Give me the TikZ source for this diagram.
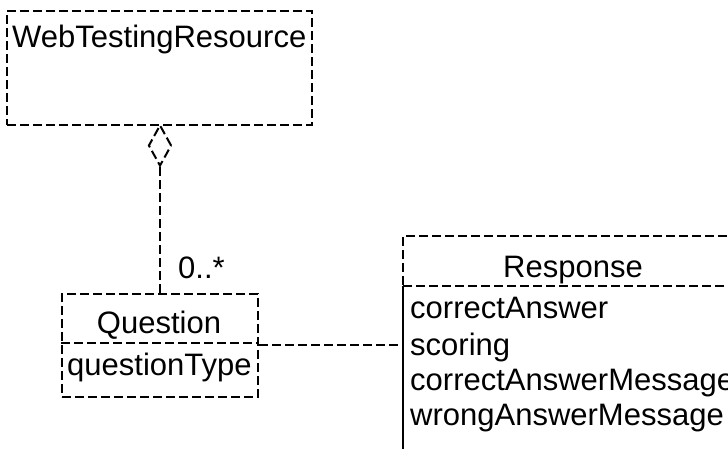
\documentclass[tikz,border=0pt]{standalone}
\usepackage{fontspec}
\setmainfont{Liberation Sans}
\usetikzlibrary{shapes.geometric}
\tikzset{
  umlline/.style={line width=2pt, dash pattern=on 9pt off 4pt},
  solidline/.style={line width=2pt},
  box/.style={umlline, draw, rectangle, inner sep=0pt, anchor=north west},
  label/.style={inner sep=0pt, font=\fontsize{31}{37}\selectfont},
}
\begin{document}
\begin{tikzpicture}[x=1pt, y=-1pt]
  \useasboundingbox (0,0) rectangle (728,448);
  \clip (0,0) rectangle (728,448);

  % WebTestingResource class
  \node[box, minimum width=305pt, minimum height=114pt] (wtr) at (6,10) {};
  \node[label, anchor=base west] (wtrname) at (12,47) {WebTestingResource};

  % aggregation diamond under the container class
  \node[umlline, draw, diamond, inner sep=0pt, minimum width=23pt, minimum height=41pt,
        anchor=north] (agg) at (160,124) {};

  % Question class
  \node[box, minimum width=196pt, minimum height=103pt] (q) at (61,293) {};
  \coordinate (qdivl) at (61,343);
  \coordinate (qdivr) at (257,343);
  \draw[umlline] (qdivl) -- (qdivr);
  \node[label, anchor=base] (qname) at (159,333) {Question};
  \node[label, anchor=base west] (qattr) at (67,375) {questionType};

  % aggregation link with multiplicity
  \draw[umlline] (agg.south) -- (agg.south |- q.north);
  \node[label, anchor=base west] (mult) at (178,278) {0..*};

  % Response class (runs past the page edges)
  \coordinate (rtl) at (403,236);
  \coordinate (rtr) at (740,236);
  \coordinate (rdl) at (403,286);
  \coordinate (rdr) at (740,286);
  \coordinate (rbl) at (403,470);
  \draw[umlline] (rtr) -- (rtl) -- (rdl);
  \draw[umlline] (rdl) -- (rdr);
  \draw[solidline] (rdl) -- (rbl);
  \node[label, anchor=base] (rname) at (573,277) {Response};
  \node[label, anchor=base west] (r1) at (410,318) {correctAnswer};
  \node[label, anchor=base west] (r2) at (410,355) {scoring};
  \node[label, anchor=base west] (r3) at (410,390) {correctAnswerMessage};
  \node[label, anchor=base west] (r4) at (410,425) {wrongAnswerMessage};

  % association between Question and Response
  \coordinate (rjoin) at (403,345);
  \draw[umlline] (q.east |- rjoin) -- (rjoin);
\end{tikzpicture}
\end{document}
